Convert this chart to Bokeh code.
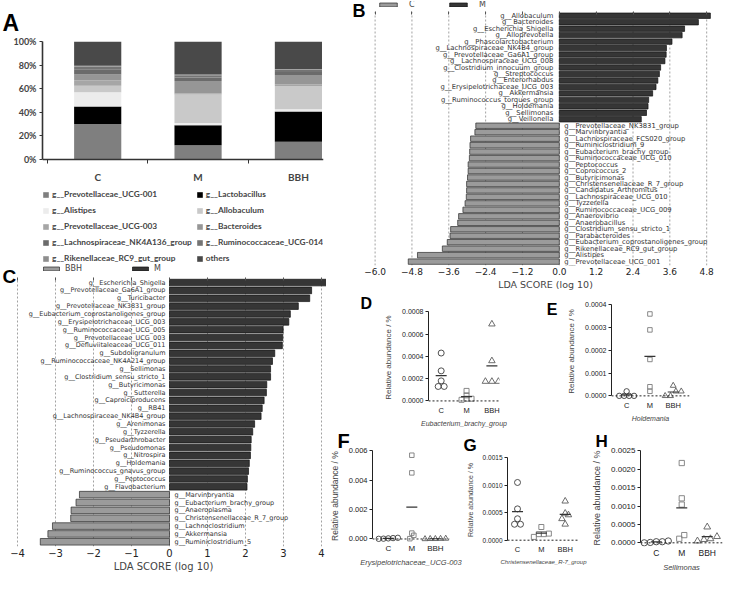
import numpy as np
from bokeh.plotting import figure
from bokeh.models import (Range1d, FixedTicker, Legend, LegendItem, Span,
                          LinearAxis, ColumnDataSource, PrintfTickFormatter)
from bokeh.layouts import row, column
from bokeh.embed import file_html
from bokeh.resources import INLINE
from bokeh.core.properties import value

# ---------------- Panel A data ----------------
a_groups = ["C", "M", "BBH"]
a_taxa = ["g__Prevotellaceae_UCG-001", "g__Lactobacillus", "g__Alistipes", "g__Allobaculum",
          "g__Prevotellaceae_UCG-003", "g__Bacteroides", "g__Lachnospiraceae_NK4A136_group",
          "g__Ruminococcaceae_UCG-014", "g__Rikenellaceae_RC9_gut_group", "others"]
a_C = [30, 15, 12, 5.5, 4.5, 5, 4.5, 2, 1, 20.5]
a_M = [12, 17, 2, 24, 1, 10.5, 3, 2, 0.5, 28]
a_BBH = [15, 25.6, 1.9, 19.7, 1.5, 8, 2.5, 2, 0.5, 23.3]
a_yticks = [0, 20, 40, 60, 80, 100]
a_colors = ["#7f7f7f", "#000000", "#ececec", "#c9c9c9", "#a6a6a6", "#969696",
            "#6b6b6b", "#747474", "#8e8e8e", "#494949"]

# ---------------- Panel B data ----------------
b_legend = ["C", "M"]
b_m_names = ["g__Allobaculum", "g__Bacteroides", "g__Escherichia_Shigella", "g__Alloprevotella",
             "g__Phascolarctobacterium", "g__Lachnospiraceae_NK4B4_group", "g__Prevotellaceae_Ga6A1_group",
             "g__Lachnospiraceae_UCG_008", "g__Clostridium_innocuum_group", "g__Streptococcus",
             "g__Enterorhabdus", "g__Erysipelotrichaceae_UCG_003", "g__Akkermansia",
             "g__Ruminococcus_torques_group", "g__Holdemania", "g__Sellimonas", "g__Veillonella"]
b_m_lda = [4.92, 4.53, 4.08, 4.00, 3.67, 3.49, 3.48, 3.44, 3.30, 3.26, 3.21, 3.15, 3.04, 2.91, 2.89, 2.84, 2.67]
b_c_names = ["g__Prevotellaceae_NK3831_group", "g__Marvinbryantia", "g__Lachnospiraceae_FCS020_group",
             "g__Ruminiclostridium_9", "g__Eubacterium_brachy_group", "g__Ruminococcaceae_UCG_010",
             "g__Peptococcus", "g__Coprococcus_2", "g__Butyricimonas", "g__Christensenellaceae_R_7_group",
             "g__Candidatus_Arthromitus", "g__Lachnospiraceae_UCG_010", "g__Tyzzerella",
             "g__Ruminococcaceae_UCG_009", "g__Anaerovibrio", "g__Anaerobacillus",
             "g__Clostridium_sensu_stricto_1", "g__Parabacteroides", "g__Eubacterium_coprostanoligenes_group",
             "g__Rikenellaceae_RC9_gut_group", "g__Alistipes", "g__Prevotellaceae_UCG_001"]
b_c_lda = [-2.72, -2.75, -2.89, -2.91, -2.92, -2.93, -2.97, -2.97, -2.99, -3.02, -3.02, -3.03, -3.07,
           -3.14, -3.28, -3.31, -3.54, -3.56, -3.65, -3.81, -4.62, -4.92]
b_ticks = [-6.0, -4.8, -3.6, -2.4, -1.2, 0.0, 1.2, 2.4, 3.6, 4.8]
b_tick_labels = ["\u22126.0", "\u22124.8", "\u22123.6", "\u22122.4", "\u22121.2", "0.0", "1.2", "2.4", "3.6", "4.8"]

# ---------------- Panel C data ----------------
c_legend = ["BBH", "M"]
c_m_names = ["g__Escherichia_Shigella", "g__Prevotellaceae_Ga6A1_group", "g__Turicibacter",
             "g__Prevotellaceae_NK3831_group", "g__Eubacterium_coprostanoligenes_group",
             "g__Erysipelotrichaceae_UCG_003", "g__Ruminococcaceae_UCG_005", "g__Prevotellaceae_UCG_003",
             "g__Defluviitaleaceae_UCG_011", "g__Subdoligranulum", "g__Ruminococcaceae_NK4A214_group",
             "g__Sellimonas", "g__Clostridium_sensu_stricto_1", "g__Butyricimonas", "g__Sutterella",
             "g__Caproiciproducens", "g__RB41", "g__Lachnospiraceae_NK4B4_group", "g__Arenimonas",
             "g__Tyzzerella", "g__Pseudarthrobacter", "g__Pseudomonas", "g__Nitrospira", "g__Holdemania",
             "g__Ruminococcus_gnavus_group", "g__Peptococcus", "g__Flavobacterium"]
c_m_lda = [4.14, 3.74, 3.69, 3.39, 3.18, 3.14, 2.99, 2.98, 2.97, 2.77, 2.71, 2.66, 2.66, 2.56, 2.55,
           2.49, 2.44, 2.41, 2.24, 2.19, 2.15, 2.14, 2.13, 2.10, 2.08, 2.05, 2.04]
c_bbh_names = ["g__Marvinbryantia", "g__Eubacterium_brachy_group", "g__Anaeroplasma",
               "g__Christensenellaceae_R_7_group", "g__Lachnoclostridium", "g__Akkermansia",
               "g__Ruminiclostridium_5"]
c_bbh_lda = [-2.37, -2.46, -2.59, -2.60, -3.08, -3.20, -3.40]
c_ticks = [-4, -3, -2, -1, 0, 1, 2, 3, 4]
c_tick_labels = ["\u22124", "\u22123", "\u22122", "\u22121", "0", "1", "2", "3", "4"]

# ---------------- Dot plots D-H ----------------
dot_groups = ["C", "M", "BBH"]
d_title = "Eubacterium_brachy_group"
d_C = [0.00043, 0.00027, 0.00018, 0.00013, 0.00013]
d_M = [0.00009, 0.00005, 0.00002, 0.00002, 0.00001]
d_BBH = [0.00069, 0.00036, 0.000175, 0.000175, 0.000175]
d_yticks = [0, 0.0002, 0.0004, 0.0006, 0.0008]
d_ylabels = ["0.0000", "0.0002", "0.0004", "0.0006", "0.0008"]

e_title = "Holdemania"
e_C = [0.00002, 0.0, 0.0, 0.0, 0.0]
e_M = [0.00036, 0.00029, 0.00016, 0.00004, 0.00002]
e_BBH = [0.000045, 0.00002, 0.00002, 0.0, 0.0]
e_yticks = [0, 0.0001, 0.0002, 0.0003, 0.0004]
e_ylabels = ["0.0000", "0.0001", "0.0002", "0.0003", "0.0004"]

f_title = "Erysipelotrichaceae_UCG-003"
f_C = [0.00008, 0.00006, 0.00004, 0.00002, 0.00001]
f_M = [0.0057, 0.0045, 0.0004, 0.00025, 0.00002]
f_BBH = [0.00003, 0.00002, 0.00001, 0.00001, 0.0]
f_yticks = [0, 0.002, 0.004, 0.006]
f_ylabels = ["0.000", "0.002", "0.004", "0.006"]

g_title = "Christensenellaceae_R-7_group"
g_C = [0.00105, 0.00057, 0.00039, 0.00029, 0.00029]
g_M = [0.00024, 0.00012, 0.00011, 0.00011, 0.00006]
g_BBH = [0.00071, 0.00049, 0.00046, 0.00039, 0.00029]
g_yticks = [0, 0.0005, 0.001, 0.0015]
g_ylabels = ["0.0000", "0.0005", "0.0010", "0.0015"]

h_title = "Sellimonas"
h_C = [0.00005, 0.00003, 0.00003, 0.00001, 0.0]
h_M = [0.00217, 0.00121, 0.00104, 0.00021, 0.00011]
h_BBH = [0.00043, 0.00017, 0.00011, 0.00009, 0.00005]
h_yticks = [0, 0.0005, 0.001, 0.0015, 0.002, 0.0025]
h_ylabels = ["0.0000", "0.0005", "0.0010", "0.0015", "0.0020", "0.0025"]

ARIAL = "Liberation Sans"
DJV = "DejaVu Sans"


def base_fig(W, H, l, r, t, b, xr, yr, **kw):
    p = figure(width=W, height=H, x_range=xr, y_range=yr, output_backend="svg",
               toolbar_location=None, tools="", min_border_left=l, min_border_right=r,
               min_border_top=t, min_border_bottom=b, **kw)
    p.outline_line_color = None
    p.xgrid.visible = False
    p.ygrid.visible = False
    return p


def title_letter(p, txt, offset, standoff, size):
    p.title.text = txt
    p.title.align = "left"
    p.title.offset = offset
    p.title.standoff = standoff
    p.title.text_font = ARIAL
    p.title.text_font_style = "bold"
    p.title.text_font_size = f"{size}px"
    p.title.text_color = "black"


def axis_letter(p, txt, pos, size, standoff):
    p.extra_y_ranges = dict(p.extra_y_ranges, lab=Range1d(0, 1))
    ax = LinearAxis(y_range_name="lab", ticker=FixedTicker(ticks=[pos]),
                    major_label_overrides={pos: txt}, axis_line_color=None,
                    major_tick_line_color=None, minor_tick_line_color=None,
                    major_tick_out=0, major_tick_in=0, major_label_standoff=standoff,
                    major_label_text_font=ARIAL, major_label_text_font_style="bold",
                    major_label_text_font_size=f"{size}px", major_label_text_color="black")
    p.add_layout(ax, "left")


def top_ticks(p, ticks, at):
    ax = LinearAxis(ticker=FixedTicker(ticks=ticks), major_label_overrides={t: "" for t in ticks},
                    major_tick_in=3, major_tick_out=0, axis_line_color=None,
                    major_tick_line_color="#555555", minor_tick_line_color=None,
                    major_label_standoff=0, major_label_text_font_size="6px",
                    fixed_location=at)
    p.add_layout(ax, "above")


def lda_grid(p, ticks, lo, hi):
    n = len(ticks)
    p.segment(x0=ticks, y0=[lo] * n, x1=ticks, y1=[hi] * n, line_color="#8a8a8a",
              line_dash="2 2", line_width=0.8)


# ================= Panel A =================
AW, AH, Al, Ar, At, Ab = 326, 262, 42, 3, 41, 0
A_FH = AH - At - Ab
A_PLOT_PX = 118                      # pixel height of the 0-100 % span
a_ystart = -(A_FH - A_PLOT_PX) * 100.0 / A_PLOT_PX
pA = base_fig(AW, AH, Al, Ar, At, Ab, Range1d(-0.55, 2.25), Range1d(a_ystart, 100))
srcA = {"x": list(range(len(a_groups)))}
for i, t in enumerate(a_taxa):
    srcA[t] = [a_C[i], a_M[i], a_BBH[i]]
rsA = pA.vbar_stack(a_taxa, x="x", width=0.47, fill_color=a_colors, line_color=None,
                    source=ColumnDataSource(srcA))
xa = pA.xaxis[0]
xa.fixed_location = 0
xa.ticker = FixedTicker(ticks=list(range(len(a_groups))),
                        minor_ticks=[i - 0.5 for i in range(len(a_groups))])
xa.major_label_overrides = {i: g for i, g in enumerate(a_groups)}
xa.major_tick_out = 0
xa.major_tick_in = 0
xa.major_tick_line_color = None
xa.minor_tick_out = 4
xa.minor_tick_in = 0
xa.minor_tick_line_color = "#333333"
xa.axis_line_color = "#333333"
xa.axis_line_width = 1.6
xa.major_label_text_font = "Lato"
xa.major_label_text_font_style = "bold"
xa.major_label_text_font_size = "10px"
xa.major_label_standoff = 7
ya = pA.yaxis[0]
ya.ticker = FixedTicker(ticks=a_yticks)
ya.formatter = PrintfTickFormatter(format="%d%%")
ya.bounds = (0, 100)
ya.major_tick_out = 3
ya.major_tick_in = 0
ya.minor_tick_line_color = None
ya.axis_line_color = "#333333"
ya.axis_line_width = 1.6
ya.major_tick_line_color = "#333333"
ya.major_label_text_font = "Lato"
ya.major_label_text_font_style = "bold"
ya.major_label_text_font_size = "9px"
ya.major_label_standoff = 3
legA = Legend(items=[LegendItem(label=t, renderers=[r]) for t, r in zip(a_taxa, rsA)],
              location=(0, -2), orientation="horizontal", ncols=2,
              glyph_width=7, glyph_height=7, label_height=12, spacing=4, label_standoff=3,
              label_text_font="Lato", label_text_font_style="bold", label_text_font_size="8.3px",
              padding=0, margin=0, border_line_color=None, background_fill_alpha=0)
pA.add_layout(legA)
title_letter(pA, "A", -40, 11, 23)

# ================= Panel B =================
BW, BH, Bl, Br, Bt, Bb = 398, 292, 44, 4, 1, 24
B_FH = BH - Bt - Bb
nb = len(b_m_names) + len(b_c_names)
yb_m = np.arange(nb - 1, nb - 1 - len(b_m_names), -1)
yb_c = np.arange(nb - 1 - len(b_m_names), -1, -1)
b_top = nb - 0.4
pB = base_fig(BW, BH, Bl, Br, Bt, Bb, Range1d(-6.15, 5.25), Range1d(-0.6, b_top + 1.6),
              y_axis_location=None)
lda_grid(pB, b_ticks, -0.6, b_top)
r_bc = pB.hbar(y=yb_c, left=0, right=b_c_lda, height=0.84, fill_color="#9b9b9b",
               line_color="#2a2a2a", line_width=0.7)
r_bm = pB.hbar(y=yb_m, left=0, right=b_m_lda, height=0.84, fill_color="#363636",
               line_color="#111111", line_width=0.7)
pB.text(x=np.zeros(len(b_m_names)), y=yb_m, text=b_m_names, text_align="right",
        text_baseline="middle", x_offset=-6, text_font=value(DJV), text_font_size="6.8px",
        text_color="#333333")
pB.text(x=np.zeros(len(b_c_names)), y=yb_c, text=b_c_names, text_align="left",
        text_baseline="middle", x_offset=5, text_font=value(DJV), text_font_size="6.8px",
        text_color="#333333")
bx = pB.xaxis[0]
bx.ticker = FixedTicker(ticks=b_ticks)
bx.major_label_overrides = dict(zip(b_ticks, b_tick_labels))
bx.axis_line_color = None
bx.major_tick_line_color = None
bx.minor_tick_line_color = None
bx.major_tick_out = 0
bx.major_tick_in = 0
bx.major_label_standoff = 2
bx.major_label_text_font = DJV
bx.major_label_text_font_size = "9px"
bx.major_label_text_color = "#222222"
bx.axis_label = "LDA SCORE (log 10)"
bx.axis_label_text_font = DJV
bx.axis_label_text_font_style = "normal"
bx.axis_label_text_font_size = "9.5px"
bx.axis_label_standoff = 1
top_ticks(pB, b_ticks, b_top)
legB = Legend(items=[LegendItem(label=b_legend[0], renderers=[r_bc]),
                     LegendItem(label=b_legend[1], renderers=[r_bm])],
              location=(7, B_FH - 11), orientation="horizontal",
              glyph_width=22, glyph_height=5, label_height=8, label_standoff=10, spacing=18,
              label_text_font=DJV, label_text_font_size="8px", padding=0, margin=0,
              border_line_color=None, background_fill_alpha=0)
pB.add_layout(legB)
axis_letter(pB, "B", 1 - 10 / B_FH, 18, 5)

# ================= Panel C =================
CW, CH, Cl, Cr, Ct, Cb = 326, 312, 0, 0, 2, 25
C_FH = CH - Ct - Cb
C_PX = 38.0                                  # pixels per LDA unit
c_x0 = c_ticks[0] - 17 / C_PX
c_x1 = c_x0 + CW / C_PX
nc = len(c_m_names) + len(c_bbh_names)
yc_m = np.arange(nc - 1, nc - 1 - len(c_m_names), -1)
yc_b = np.arange(nc - 1 - len(c_m_names), -1, -1)
c_top = nc - 0.4
c_y1 = c_top + 1.7
pC = base_fig(CW, CH, Cl, Cr, Ct, Cb, Range1d(c_x0, c_x1), Range1d(-0.6, c_y1),
              y_axis_location=None)
lda_grid(pC, c_ticks, -0.6, c_top)
r_cb = pC.hbar(y=yc_b, left=0, right=c_bbh_lda, height=0.84, fill_color="#9b9b9b",
               line_color="#2a2a2a", line_width=0.7)
r_cm = pC.hbar(y=yc_m, left=0, right=c_m_lda, height=0.84, fill_color="#363636",
               line_color="#111111", line_width=0.7)
pC.text(x=np.zeros(len(c_m_names)), y=yc_m, text=c_m_names, text_align="right",
        text_baseline="middle", x_offset=-4, text_font=value(DJV), text_font_size="6.5px",
        text_color="#333333")
pC.text(x=np.zeros(len(c_bbh_names)), y=yc_b, text=c_bbh_names, text_align="left",
        text_baseline="middle", x_offset=5, text_font=value(DJV), text_font_size="6.5px",
        text_color="#333333")
pC.text(x=[c_x0], y=[c_y1], text=["C"], x_offset=2, y_offset=1, text_align="left",
        text_baseline="top", text_font=value(ARIAL), text_font_style="bold",
        text_font_size="19px", text_color="black")
cx = pC.xaxis[0]
cx.ticker = FixedTicker(ticks=c_ticks)
cx.major_label_overrides = dict(zip(c_ticks, c_tick_labels))
cx.axis_line_color = None
cx.major_tick_line_color = None
cx.minor_tick_line_color = None
cx.major_tick_out = 0
cx.major_tick_in = 0
cx.major_label_standoff = 2
cx.major_label_text_font = DJV
cx.major_label_text_font_size = "10px"
cx.major_label_text_color = "#222222"
cx.axis_label = "LDA SCORE (log 10)"
cx.axis_label_text_font = DJV
cx.axis_label_text_font_style = "normal"
cx.axis_label_text_font_size = "10px"
cx.axis_label_standoff = 1
top_ticks(pC, c_ticks, c_top)
legC = Legend(items=[LegendItem(label=c_legend[0], renderers=[r_cb]),
                     LegendItem(label=c_legend[1], renderers=[r_cm])],
              location=(41, C_FH - 12), orientation="horizontal",
              glyph_width=20, glyph_height=5, label_height=8, label_standoff=4, spacing=45,
              label_text_font=DJV, label_text_font_size="8px", padding=0, margin=0,
              border_line_color=None, background_fill_alpha=0)
pC.add_layout(legC)


# ================= Dot plots =================
def swarm(vals, d, ppx, ppy):
    v = np.asarray(vals, float)
    order = np.argsort(v, kind="stable")
    offs = np.zeros(len(v))
    i = 0
    while i < len(order):
        j = i
        while j + 1 < len(order) and (v[order[j + 1]] - v[order[i]]) * ppy < 0.8 * d:
            j += 1
        n = j - i + 1
        for k in range(n):
            offs[order[i + k]] = (k - (n - 1) / 2) * d / ppx
        i = j + 1
    return offs


MARKERS = ["circle", "square", "triangle"]
MCOLORS = ["#3c3c3c", "#7c7c7c", "#5c5c5c"]
MSIZES = [6, 5, 6.5]


def dotplot(W, H, l, r, t, b, xr, data, ymax, yticks, ylabels, xtitle, fs, ms):
    y0, y1 = -0.04 * ymax, 1.015 * ymax
    p = base_fig(W, H, l, r, t, b, Range1d(*xr), Range1d(y0, y1))
    fw, fh = W - l - r, H - t - b
    ppx, ppy = fw / (xr[1] - xr[0]), fh / (y1 - y0)
    p.add_layout(Span(location=0, dimension="width", line_color="#222222",
                      line_dash="2 2", line_width=1))
    for g, vals in enumerate(data):
        size = MSIZES[g] * ms
        offs = swarm(vals, size, ppx, ppy)
        p.scatter(g + offs, vals, marker=MARKERS[g], size=size, fill_color=None,
                  line_color=MCOLORS[g], line_width=0.9)
        p.scatter([g], [float(np.mean(vals))], marker="dash", size=11, line_color="#333333",
                  line_width=1.2)
    yx = p.yaxis[0]
    yx.ticker = FixedTicker(ticks=yticks)
    yx.major_label_overrides = dict(zip(yticks, ylabels))
    yx.bounds = (0, ymax)
    yx.minor_tick_line_color = None
    yx.major_tick_out = 3
    yx.major_tick_in = 0
    yx.major_label_standoff = 2
    yx.axis_line_color = "#222222"
    yx.major_tick_line_color = "#222222"
    yx.major_label_text_font = ARIAL
    yx.major_label_text_font_size = f"{fs[0]}px"
    yx.major_label_text_color = "#222222"
    yx.axis_label = "Relative abundance / %"
    yx.axis_label_text_font = ARIAL
    yx.axis_label_text_font_style = "normal"
    yx.axis_label_text_font_size = f"{fs[2]}px"
    yx.axis_label_standoff = 6
    xx = p.xaxis[0]
    xx.ticker = FixedTicker(ticks=list(range(len(dot_groups))))
    xx.major_label_overrides = {i: g for i, g in enumerate(dot_groups)}
    xx.axis_line_color = None
    xx.major_tick_line_color = None
    xx.minor_tick_line_color = None
    xx.major_tick_out = 0
    xx.major_tick_in = 0
    xx.major_label_standoff = 1
    xx.major_label_text_font = ARIAL
    xx.major_label_text_font_size = f"{fs[1]}px"
    xx.major_label_text_color = "#222222"
    xx.axis_label = xtitle
    xx.axis_label_text_font = ARIAL
    xx.axis_label_text_font_style = "italic"
    xx.axis_label_text_font_size = f"{fs[3]}px"
    xx.axis_label_standoff = 2
    return p


pD = dotplot(217, 137, 102, 44, 18, 21, (-0.5, 2.3), (d_C, d_M, d_BBH), 0.0008, d_yticks, d_ylabels,
             d_title, (7, 7.5, 8, 7), 1.0)
title_letter(pD, "D", -68, -3, 16)
pE = dotplot(181, 137, 61, 35, 11, 30, (-0.65, 2.7), (e_C, e_M, e_BBH), 0.0004, e_yticks, e_ylabels,
             e_title, (7, 7.5, 8, 7), 0.9)
axis_letter(pE, "E", 0.94, 16, 7)
pF = dotplot(136, 145, 36, 13, 20, 32, (-0.67, 2.6), (f_C, f_M, f_BBH), 0.006, f_yticks, f_ylabels,
             f_title, (7.5, 8, 8.5, 7.5), 0.9)
title_letter(pF, "F", -35, -4, 20)
pG = dotplot(127, 145, 45, 10, 27, 31, (-0.42, 2.6), (g_C, g_M, g_BBH), 0.0015, g_yticks, g_ylabels,
             g_title, (6.5, 7.5, 7, 6), 1.0)
title_letter(pG, "G", -44, 4, 17)
pH = dotplot(135, 145, 47, 2, 20, 28, (-0.62, 2.6), (h_C, h_M, h_BBH), 0.0025, h_yticks, h_ylabels,
             h_title, (8, 8.5, 9, 7.5), 1.05)
title_letter(pH, "H", -45, -3, 17)

# each figure sits in its own column so that neighbouring frames are not aligned
layout = row(
    column(column(pA), column(pC)),
    column(column(pB), row(column(pD), column(pE)), row(column(pF), column(pG), column(pH))),
)

open("out.html", "w").write(file_html(layout, INLINE))
